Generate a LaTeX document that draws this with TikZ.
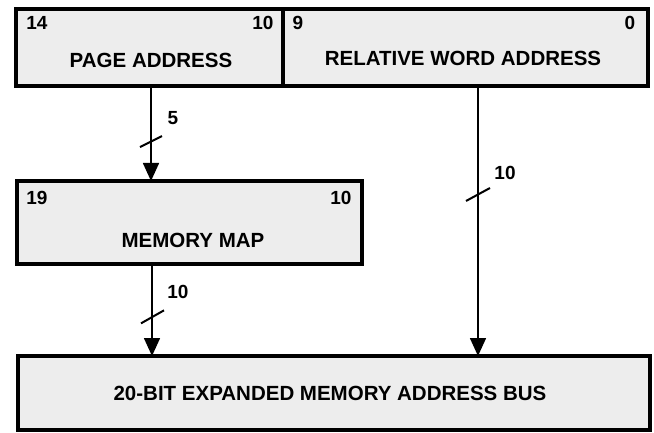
\documentclass[tikz,border=0pt]{standalone}
\usepackage{fontspec}
\setmainfont{Liberation Sans}
\usetikzlibrary{arrows.meta,calc}
\begin{document}
\begin{tikzpicture}[x=1pt,y=-1pt,
  regbox/.style={draw=black,line width=3.2pt,fill=black!7,inner sep=0pt,outer sep=0pt},
  lbl/.style={font=\fontsize{20.5}{20.5}\selectfont\bfseries,inner sep=0pt},
  num/.style={font=\fontsize{19}{19}\selectfont\bfseries,inner sep=0pt},
  arr/.style={line width=1.6pt,-{Triangle[width=16pt,length=18pt]}},
  slash/.style={line width=2pt}]
\useasboundingbox (0,0) rectangle (654,433);
\node[regbox,minimum width=267pt,minimum height=77pt] (pa) at (149.5,47.5) {};
\node[regbox,minimum width=365pt,minimum height=77pt] (rwa) at (465.5,47.5) {};
\node[regbox,minimum width=345pt,minimum height=83pt] (mm) at (189.5,222.5) {};
\node[regbox,minimum width=632pt,minimum height=74pt] (bus) at (334,393) {};
% texts
\node[lbl] (tpa) at (151,60) {PAGE ADDRESS};
\node[lbl] (trwa) at (463,58) {RELATIVE WORD ADDRESS};
\node[lbl] (tmm) at (193,240) {MEMORY MAP};
\node[lbl] (tbus) at (330,393) {20-BIT EXPANDED MEMORY ADDRESS BUS};
\node[num] (n14) at (37,23) {14};
\node[num] (n10a) at (263,23) {10};
\node[num] (n9) at (298,23) {9};
\node[num] (n0) at (630,23) {0};
\node[num] (n19) at (37,198) {19};
\node[num] (n10b) at (341,198) {10};
% connectors
\coordinate (a1) at ([xshift=1.5pt]pa.south);
\draw[arr] (a1) -- coordinate[pos=0.59] (s1) (a1 |- mm.north);
\coordinate (a2) at ([xshift=12.5pt]rwa.south);
\draw[arr] (a2) -- coordinate[pos=0.40] (s2) (a2 |- bus.north);
\coordinate (a3) at ([xshift=-37.5pt]mm.south);
\draw[arr] (a3) -- coordinate[pos=0.58] (s3) (a3 |- bus.north);
\draw[slash] ([shift={(-11,5)}]s1) -- ([shift={(11,-6)}]s1);
\draw[slash] ([shift={(-12,7)}]s2) -- ([shift={(12,-6)}]s2);
\draw[slash] ([shift={(-11,6)}]s3) -- ([shift={(12,-7)}]s3);
\node[num] (w1) at (173,118) {5};
\node[num] (w2) at (505,173) {10};
\node[num] (w3) at (178,292) {10};
\end{tikzpicture}
\end{document}
